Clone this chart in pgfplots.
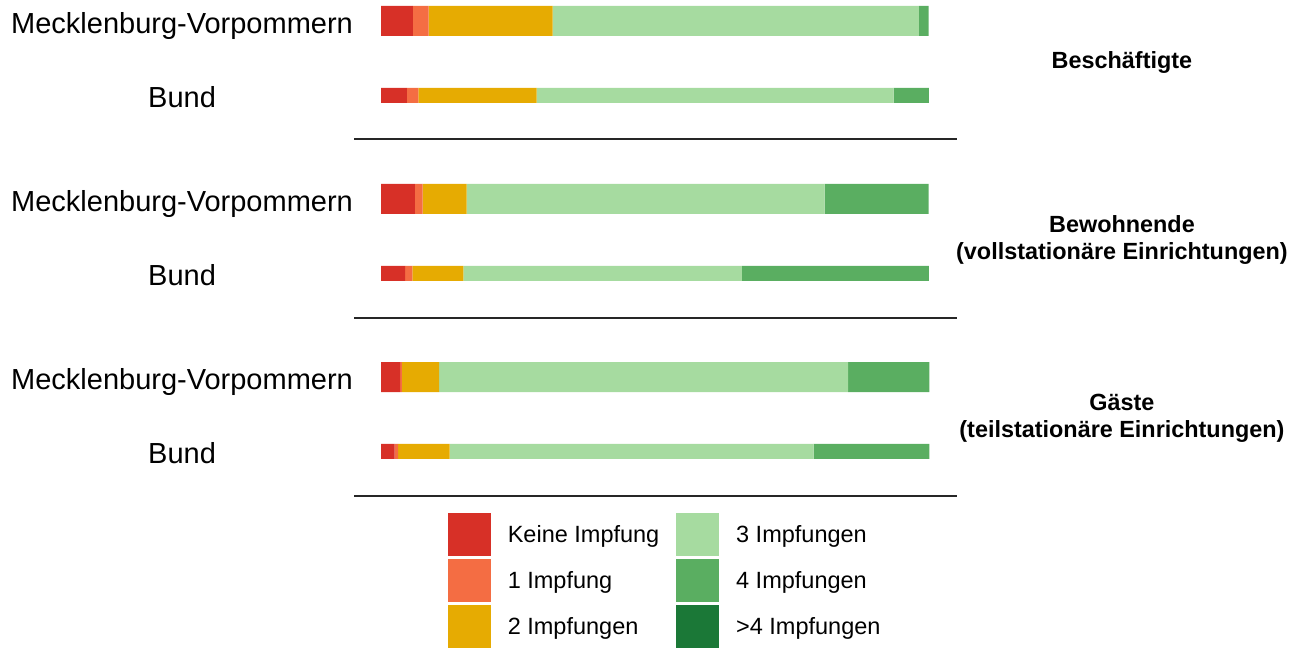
\documentclass[border=0pt]{standalone}
\usepackage{pgfplots}
\pgfplotsset{compat=1.18}
\usepackage{pgfplotstable}
\usepackage{fontspec}
\setmainfont{Liberation Sans}

\definecolor{cKeine}{HTML}{D73027}
\definecolor{cEins}{HTML}{F46D43}
\definecolor{cZwei}{HTML}{E6AB02}
\definecolor{cDrei}{HTML}{A6DBA0}
\definecolor{cVier}{HTML}{5AAE61}
\definecolor{cFuenf}{HTML}{1B7837}

% Mecklenburg-Vorpommern (thick bars); y = vertical position of the row
\pgfplotstableread{
y    keine eins zwei drei vier
21   5.8   2.9  22.6 66.8 1.8
199  6.2   1.4  8.0  65.3 19.0
377  3.5   0.3  6.8  74.6 14.8
}\mvdata

% Bund (thin bars)
\pgfplotstableread{
y     keine eins zwei drei vier
95.5  4.7   2.1  21.6 65.1 6.4
273.5 4.4   1.3  9.3  50.8 34.1
451.5 2.5   0.6  9.4  66.4 21.1
}\bunddata

\pgfplotsset{
  base/.style={
    scale only axis, width=651.5pt, height=323pt,
    xmin=-69.49, xmax=168.16, ymin=0, ymax=646, y dir=reverse,
    hide axis, clip=false,
  },
}

\begin{document}
\begin{tikzpicture}
% --- MV bars ---
\begin{axis}[base, xbar stacked, bar width=15pt]
  \path (rel axis cs:0,0) rectangle (rel axis cs:1,1);
  \addplot[fill=cKeine, draw=none] table[x=keine, y=y] {\mvdata};
  \addplot[fill=cEins,  draw=none] table[x=eins,  y=y] {\mvdata};
  \addplot[fill=cZwei,  draw=none] table[x=zwei,  y=y] {\mvdata};
  \addplot[fill=cDrei,  draw=none] table[x=drei,  y=y] {\mvdata};
  \addplot[fill=cVier,  draw=none] table[x=vier,  y=y] {\mvdata};
\end{axis}
% --- Bund bars ---
\begin{axis}[base, xbar stacked, bar width=7.5pt]
  \addplot[fill=cKeine, draw=none] table[x=keine, y=y] {\bunddata};
  \addplot[fill=cEins,  draw=none] table[x=eins,  y=y] {\bunddata};
  \addplot[fill=cZwei,  draw=none] table[x=zwei,  y=y] {\bunddata};
  \addplot[fill=cDrei,  draw=none] table[x=drei,  y=y] {\bunddata};
  \addplot[fill=cVier,  draw=none] table[x=vier,  y=y] {\bunddata};
\end{axis}
% --- labels, separators, legend ---
\begin{axis}[base,
  legend columns=2,
  legend cell align=left,
  legend image code/.code={\fill[#1] (0pt,-10.5pt) rectangle (21pt,10.5pt);},
  legend style={at={(axis cs:12.22,513)}, anchor=north west, draw=none, fill=none,
    inner sep=0pt, outer sep=0pt, row sep=1.5pt,
    font=\fontsize{11.75}{14}\selectfont,
    nodes={inner sep=0pt, outer sep=0pt, text depth=0pt},
    /tikz/every odd column/.append style={column sep=8.5pt},
    /tikz/every even column/.append style={column sep=8.5pt}},
]
  \addlegendimage{cKeine}\addlegendentry{Keine Impfung}
  \addlegendimage{cDrei}\addlegendentry{3 Impfungen}
  \addlegendimage{cEins}\addlegendentry{1 Impfung}
  \addlegendimage{cVier}\addlegendentry{4 Impfungen}
  \addlegendimage{cZwei}\addlegendentry{2 Impfungen}
  \addlegendimage{cFuenf}\addlegendentry{>4 Impfungen}

  \draw[line width=1pt, black!85] (axis cs:-4.92,139) -- (axis cs:105.05,139);
  \draw[line width=1pt, black!85] (axis cs:-4.92,318) -- (axis cs:105.05,318);
  \draw[line width=1pt, black!85] (axis cs:-4.92,496) -- (axis cs:105.05,496);

  \node[anchor=base, inner sep=0pt, font=\fontsize{14.5}{17}\selectfont] at (axis cs:-36.29,33.3) {Mecklenburg-Vorpommern};
  \node[anchor=base, inner sep=0pt, font=\fontsize{14.5}{17}\selectfont] at (axis cs:-36.29,107.3) {Bund};
  \node[anchor=base, inner sep=0pt, font=\fontsize{14.5}{17}\selectfont] at (axis cs:-36.29,211.3) {Mecklenburg-Vorpommern};
  \node[anchor=base, inner sep=0pt, font=\fontsize{14.5}{17}\selectfont] at (axis cs:-36.29,285.3) {Bund};
  \node[anchor=base, inner sep=0pt, font=\fontsize{14.5}{17}\selectfont] at (axis cs:-36.29,389.3) {Mecklenburg-Vorpommern};
  \node[anchor=base, inner sep=0pt, font=\fontsize{14.5}{17}\selectfont] at (axis cs:-36.29,463.3) {Bund};

  \node[anchor=base, inner sep=0pt, font=\fontsize{11.7}{14}\selectfont\bfseries] at (axis cs:135.14,68.3) {Beschäftigte};
  \node[anchor=base, inner sep=0pt, font=\fontsize{11.7}{14}\selectfont\bfseries] at (axis cs:135.14,232.3) {Bewohnende};
  \node[anchor=base, inner sep=0pt, font=\fontsize{11.7}{14}\selectfont\bfseries] at (axis cs:135.14,259.3) {(vollstationäre Einrichtungen)};
  \node[anchor=base, inner sep=0pt, font=\fontsize{11.7}{14}\selectfont\bfseries] at (axis cs:135.14,410.5) {Gäste};
  \node[anchor=base, inner sep=0pt, font=\fontsize{11.7}{14}\selectfont\bfseries] at (axis cs:135.14,437.5) {(teilstationäre Einrichtungen)};
\end{axis}
\end{tikzpicture}
\end{document}
